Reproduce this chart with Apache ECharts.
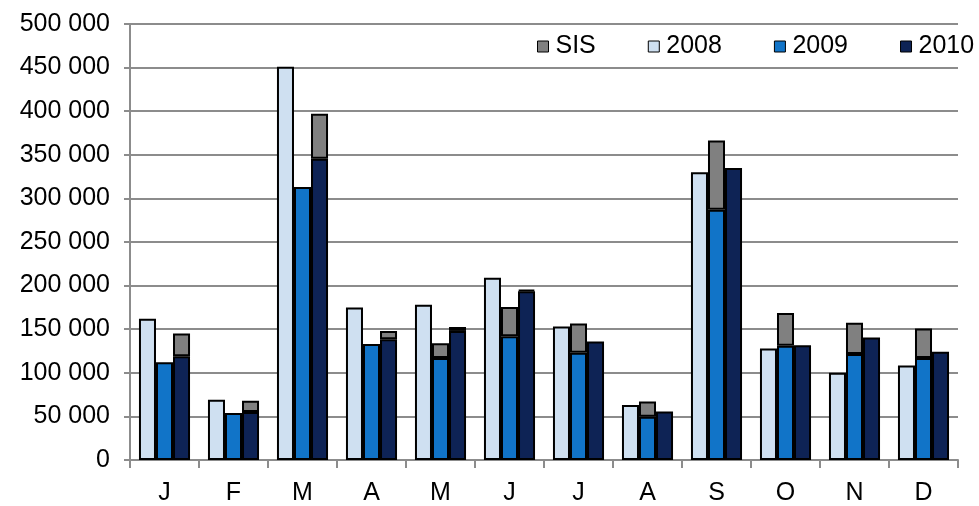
<!DOCTYPE html>
<html>
<head>
<meta charset="utf-8">
<script src="https://cdn.jsdelivr.net/npm/echarts@6/dist/echarts.min.js"></script>
<style>
  html, body { margin: 0; padding: 0; background: #fff; }
  #chart { width: 979px; height: 506px; }
</style>
</head>
<body>
<div id="chart"></div>
<script>
// Monthly volumes per year, with the SIS share stacked on top of the year it belongs to
var months = ['J', 'F', 'M', 'A', 'M', 'J', 'J', 'A', 'S', 'O', 'N', 'D'];
var y2008 = [162000, 69000, 451000, 175000, 178000, 209000, 153000, 63000, 330000, 128000, 100000, 108500];
var y2009 = [112000, 54000, 313000, 133000, 117000, 142000, 123000, 49500, 287000, 131000, 121500, 117000];
var sis2009 = [null, null, null, null, 17000, 33500, 33500, 17500, 79500, 37500, 36000, 33700];
var y2010 = [119000, 55000, 345500, 138500, 148000, 193500, 136000, 55500, 335000, 131700, 140400, 124000];
var sis2010 = [26000, 13000, 51500, 9500, 4500, 1500, null, null, null, null, null, null];
var yTicks = { min: 0, max: 500000, interval: 50000 };

var colors = { sis: '#808080', a: '#cfe0f1', b: '#1174c8', c: '#0e2355' };
var FONT = '"Liberation Sans", Arial, sans-serif';

function fmt(v) {
  return String(v).replace(/\B(?=(\d{3})+(?!\d))/g, ' ');
}

function barSeries(name, data, stack, color) {
  return {
    name: name,
    type: 'bar',
    stack: stack,
    data: data,
    barGap: '0%',
    barCategoryGap: '26%',
    itemStyle: { color: color, borderColor: '#000', borderWidth: 2 },
    emphasis: { disabled: true }
  };
}

var chart = echarts.init(document.getElementById('chart'), null, { renderer: 'canvas' });
chart.setOption({
  animation: false,
  backgroundColor: '#fff',
  grid: { left: 130, right: 21, top: 24, bottom: 43, containLabel: false },
  legend: {
    data: ['SIS', '2008', '2009', '2010'],
    orient: 'horizontal',
    left: 532,
    width: 460,
    top: 29,
    itemWidth: 11,
    itemHeight: 11,
    itemGap: 52,
    icon: 'rect',
    itemStyle: { borderColor: '#000', borderWidth: 1 },
    textStyle: { fontFamily: FONT, fontSize: 25, color: '#000', padding: [0, 0, 0, 2] }
  },
  xAxis: {
    type: 'category',
    data: months,
    axisLine: { lineStyle: { color: '#8c8c8c', width: 2 } },
    axisTick: { show: true, length: 8, lineStyle: { color: '#8c8c8c', width: 2 } },
    axisLabel: { fontFamily: FONT, fontSize: 25, color: '#000', margin: 21 }
  },
  yAxis: {
    type: 'value',
    min: yTicks.min,
    max: yTicks.max,
    interval: yTicks.interval,
    axisLine: { show: true, lineStyle: { color: '#8c8c8c', width: 2 } },
    axisTick: { show: true, inside: false, length: 6, lineStyle: { color: '#8c8c8c', width: 2 } },
    axisLabel: { fontFamily: FONT, fontSize: 25, color: '#000', margin: 20, formatter: fmt },
    splitLine: { lineStyle: { color: '#8c8c8c', width: 2 } }
  },
  series: [
    barSeries('2008', y2008, 'a', colors.a),
    barSeries('2009', y2009, 'b', colors.b),
    barSeries('SIS', sis2009, 'b', colors.sis),
    barSeries('2010', y2010, 'c', colors.c),
    barSeries('SIS', sis2010, 'c', colors.sis)
  ]
});
</script>
</body>
</html>
